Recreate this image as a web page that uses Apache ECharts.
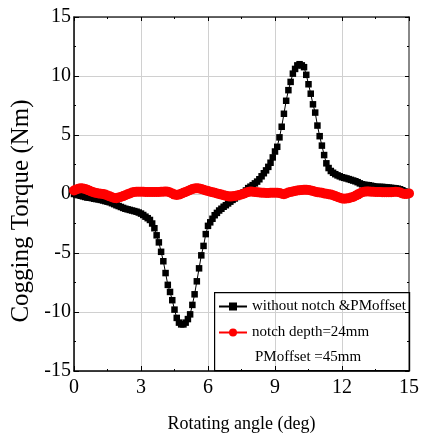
<!DOCTYPE html>
<html>
<head>
<meta charset="utf-8">
<script src="https://cdn.jsdelivr.net/npm/echarts@6/dist/echarts.min.js"></script>
<style>html,body{margin:0;padding:0;background:#fff}#c{width:422px;height:439px}</style>
</head>
<body>
<div id="c"></div>
<script>
// Rotating angle (deg), step 0.1
const angles = [0.0,0.1,0.2,0.3,0.4,0.5,0.6,0.7,0.8,0.9,1.0,1.1,1.2,1.3,1.4,1.5,1.6,1.7,1.8,1.9,2.0,2.1,2.2,2.3,2.4,2.5,2.6,2.7,2.8,2.9,3.0,3.1,3.2,3.3,3.4,3.5,3.6,3.7,3.8,3.9,4.0,4.1,4.2,4.3,4.4,4.5,4.6,4.7,4.8,4.9,5.0,5.1,5.2,5.3,5.4,5.5,5.6,5.7,5.8,5.9,6.0,6.1,6.2,6.3,6.4,6.5,6.6,6.7,6.8,6.9,7.0,7.1,7.2,7.3,7.4,7.5,7.6,7.7,7.8,7.9,8.0,8.1,8.2,8.3,8.4,8.5,8.6,8.7,8.8,8.9,9.0,9.1,9.2,9.3,9.4,9.5,9.6,9.7,9.8,9.9,10.0,10.1,10.2,10.3,10.4,10.5,10.6,10.7,10.8,10.9,11.0,11.1,11.2,11.3,11.4,11.5,11.6,11.7,11.8,11.9,12.0,12.1,12.2,12.3,12.4,12.5,12.6,12.7,12.8,12.9,13.0,13.1,13.2,13.3,13.4,13.5,13.6,13.7,13.8,13.9,14.0,14.1,14.2,14.3,14.4,14.5,14.6,14.7,14.8,14.9,15.0];

// without notch & PM offset
const torqueOriginal = [0.0,-0.05,-0.1,-0.15,-0.2,-0.25,-0.3,-0.32,-0.35,-0.4,-0.43,-0.46,-0.5,-0.55,-0.6,-0.65,-0.7,-0.78,-0.86,-0.95,-1.02,-1.1,-1.18,-1.25,-1.3,-1.35,-1.4,-1.45,-1.5,-1.57,-1.66,-1.78,-1.92,-2.05,-2.2,-2.5,-2.9,-3.5,-4.1,-4.9,-5.7,-6.7,-7.7,-8.3,-9.0,-9.8,-10.5,-10.9,-11.05,-11.05,-10.9,-10.6,-10.2,-9.4,-8.5,-7.4,-6.3,-5.2,-4.4,-3.4,-2.7,-2.4,-2.1,-1.8,-1.6,-1.4,-1.25,-1.08,-0.95,-0.8,-0.65,-0.5,-0.38,-0.25,-0.1,0.02,0.15,0.3,0.5,0.62,0.75,0.9,1.05,1.25,1.5,1.76,2.0,2.3,2.65,3.1,3.6,4.0,4.8,5.7,6.8,7.9,8.8,9.5,10.2,10.6,10.9,11.0,10.9,10.75,10.1,9.3,8.5,7.6,6.9,5.8,4.9,4.1,3.3,2.6,2.2,1.95,1.8,1.68,1.58,1.5,1.42,1.37,1.32,1.26,1.2,1.14,1.08,1.0,0.9,0.82,0.78,0.76,0.74,0.7,0.66,0.62,0.6,0.6,0.6,0.58,0.56,0.54,0.52,0.5,0.48,0.45,0.4,0.32,0.22,0.1,0.05];

// notch depth & PM offset
const torqueNotch = [0.30,0.38,0.45,0.48,0.46,0.42,0.35,0.28,0.2,0.12,0.08,0.05,0.02,0.0,-0.05,-0.12,-0.2,-0.28,-0.33,-0.35,-0.3,-0.25,-0.18,-0.1,-0.02,0.05,0.12,0.18,0.2,0.2,0.2,0.2,0.18,0.18,0.18,0.17,0.17,0.17,0.18,0.2,0.2,0.22,0.2,0.12,0.05,-0.05,-0.08,-0.05,0.02,0.1,0.18,0.26,0.34,0.42,0.46,0.48,0.46,0.42,0.36,0.3,0.25,0.2,0.15,0.1,0.05,0.0,-0.05,-0.1,-0.15,-0.2,-0.22,-0.2,-0.18,-0.12,-0.08,-0.04,0.02,0.1,0.18,0.22,0.2,0.18,0.15,0.12,0.1,0.1,0.08,0.08,0.1,0.1,0.1,0.1,0.08,0.02,-0.02,0.05,0.12,0.18,0.22,0.26,0.3,0.32,0.34,0.35,0.36,0.34,0.3,0.25,0.2,0.15,0.12,0.1,0.05,0.02,-0.02,-0.05,-0.1,-0.18,-0.25,-0.32,-0.38,-0.4,-0.38,-0.35,-0.3,-0.25,-0.15,-0.05,0.05,0.15,0.2,0.22,0.22,0.2,0.2,0.18,0.18,0.17,0.15,0.15,0.15,0.15,0.15,0.18,0.2,0.18,0.12,0.05,0.0,0.0,0.05];

const seriesNames = ['without notch &PMoffset', 'notch depth=24mm'];
const legendExtra = 'PMoffset =45mm';
const xTitle = 'Rotating angle (deg)';
const yTitle = 'Cogging Torque (Nm)';

const FONT = '"Liberation Serif", "Times New Roman", serif';
const chart = echarts.init(document.getElementById('c'), null, {renderer: 'canvas'});

const pairs = ys => angles.map((a, i) => [a, ys[i]]);

const hiddenAxis = {
  axisLabel: {show: false},
  splitLine: {show: false},
  axisTick: {show: true, inside: true, length: 4, lineStyle: {color: '#000'}},
  minorTick: {show: true, splitNumber: 2, length: 2, lineStyle: {color: '#000'}},
  axisLine: {show: true, onZero: false, lineStyle: {color: '#888', width: 2}}
};

chart.setOption({
  animation: false,
  backgroundColor: '#fff',
  grid: {left: 74, right: 13, top: 17, bottom: 68, containLabel: false, outerBoundsMode: 'none'},
  xAxis: [{
    type: 'value', min: 0, max: 15, interval: 3,
    name: xTitle, nameLocation: 'middle', nameGap: 44,
    nameTextStyle: {fontFamily: FONT, fontSize: 18, color: '#000'},
    axisLine: {onZero: false, lineStyle: {color: '#000', width: 1.5}},
    axisTick: {inside: true, length: 5, lineStyle: {color: '#000'}},
    minorTick: {show: true, splitNumber: 2, length: 2, lineStyle: {color: '#000'}},
    axisLabel: {fontFamily: FONT, fontSize: 20, color: '#000', margin: 7},
    splitLine: {show: true, lineStyle: {color: '#d0d0d0', width: 1}}
  }, Object.assign({type: 'value', min: 0, max: 15, interval: 3, position: 'top', gridIndex: 0}, hiddenAxis, {
    axisLine: {show: true, onZero: false, lineStyle: {color: '#333', width: 1.5}}
  })],
  yAxis: [{
    type: 'value', min: -15, max: 15, interval: 5,
    name: yTitle, nameLocation: 'middle', nameGap: 34, nameRotate: 90,
    nameTextStyle: {fontFamily: FONT, fontSize: 25, color: '#000', padding: [0, 34, 0, 0]},
    axisLine: {onZero: false, lineStyle: {color: '#000', width: 1.5}},
    axisTick: {inside: true, length: 5, lineStyle: {color: '#000'}},
    minorTick: {show: true, splitNumber: 2, length: 2, lineStyle: {color: '#000'}},
    axisLabel: {fontFamily: FONT, fontSize: 20, color: '#000', margin: 3},
    splitLine: {show: true, lineStyle: {color: '#d0d0d0', width: 1}}
  }, Object.assign({type: 'value', min: -15, max: 15, interval: 5, position: 'right', gridIndex: 0}, hiddenAxis)],
  legend: {
    orient: 'vertical', left: 218, top: 299, padding: 0,
    itemWidth: 28, itemHeight: 10, itemGap: 11,
    textStyle: {fontFamily: FONT, fontSize: 15, color: '#000'},
    data: seriesNames
  },
  graphic: [
    {type: 'rect', left: 214, top: 292, shape: {width: 195, height: 78},
     style: {fill: 'rgba(0,0,0,0)', stroke: '#000', lineWidth: 1.2}, z: 100},
    {type: 'text', left: 255, top: 350,
     style: {text: legendExtra, font: '15px ' + FONT, fill: '#000'}, z: 100}
  ],
  series: [{
    name: seriesNames[0], type: 'line', data: pairs(torqueOriginal),
    symbol: 'rect', symbolSize: 6.5, showAllSymbol: true,
    itemStyle: {color: '#000'}, lineStyle: {color: '#000', width: 1}
  }, {
    name: seriesNames[1], type: 'line', data: pairs(torqueNotch),
    symbol: 'circle', symbolSize: 10, showAllSymbol: true,
    itemStyle: {color: '#ff0000'}, lineStyle: {color: '#ff0000', width: 2}
  }]
});
</script>
</body>
</html>
